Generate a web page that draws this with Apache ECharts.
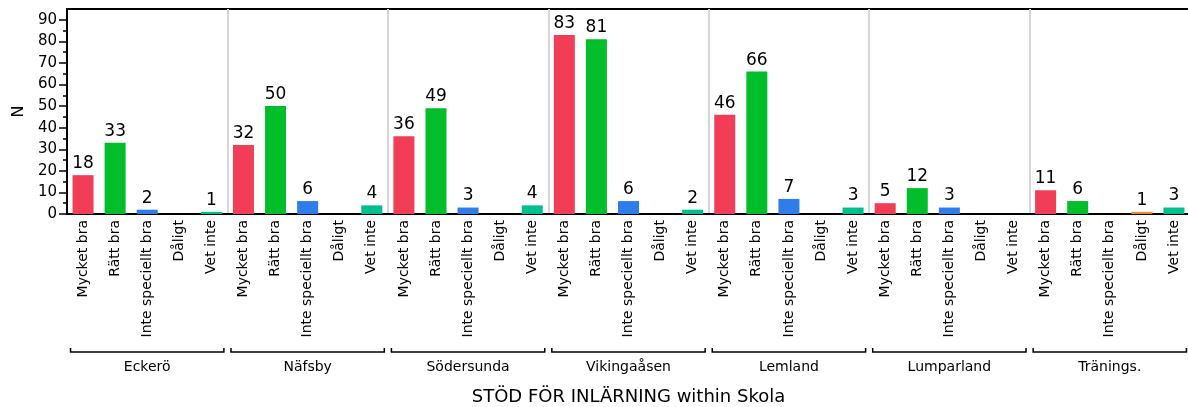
<!DOCTYPE html>
<html><head><meta charset="utf-8">
<script src="https://cdn.jsdelivr.net/npm/echarts@6/dist/echarts.min.js"></script>
<style>html,body{margin:0;padding:0;background:#fff}#c{width:1188px;height:407px}</style>
</head><body><div id="c"></div>
<script>
const groups = ['Eckerö','Näfsby','Södersunda','Vikingaåsen','Lemland','Lumparland','Tränings.'];
const responses = ['Mycket bra','Rätt bra','Inte speciellt bra','Dåligt','Vet inte'];
const mycketBra = [18,32,36,83,46,5,11];
const rattBra = [33,50,49,81,66,12,6];
const inteSpeciellt = [2,6,3,6,7,3,null];
const daligt = [null,null,null,null,null,null,1];
const vetInte = [1,4,4,2,3,null,3];
const yTicks = [0,10,20,30,40,50,60,70,80,90];
const yMinorTicks = [5,15,25,35,45,55,65,75,85];
const colors = ['#F23D57','#02BE2A','#2F7DEB','#E88A2E','#00BF8E'];

const seriesByResp = [mycketBra, rattBra, inteSpeciellt, daligt, vetInte];
const cats = [], data = [];
groups.forEach((g, gi) => {
  responses.forEach((r, ri) => {
    cats.push(r);
    const v = seriesByResp[ri][gi];
    data.push({value: v, itemStyle: {color: colors[ri]}});
  });
});

const FONT = 'DejaVu Sans';
const chart = echarts.init(document.getElementById('c'));
chart.setOption({
  animation: false,
  textStyle: {fontFamily: FONT},
  grid: {left: 67, right: -2, top: 9, bottom: 193, show: true, borderColor: '#000', borderWidth: 2,
    containLabel: false, outerBoundsMode: 'none'},
  xAxis: [{
    type: 'category', data: cats,
    axisLine: {lineStyle: {color: '#000', width: 2}},
    axisTick: {show: false},
    axisLabel: {rotate: 90, color: '#000', fontSize: 14, fontFamily: FONT, margin: 6, interval: 0},
    splitLine: {show: true, interval: (i) => i % 5 === 0 && i > 0, lineStyle: {color: '#d6d6d6', width: 2}},
    name: 'STÖD FÖR INLÄRNING within Skola', nameLocation: 'middle', nameGap: 174,
    nameTextStyle: {color: '#000', fontSize: 18, fontFamily: FONT}
  }],
  yAxis: [{
    type: 'value', min: 0, max: 95,
    name: 'N', nameLocation: 'middle', nameGap: 40,
    nameTextStyle: {color: '#000', fontSize: 16, fontFamily: FONT},
    axisLine: {show: true, lineStyle: {color: '#000', width: 2}},
    axisTick: {show: true, length: 8, customValues: yTicks, lineStyle: {color: '#000', width: 1.5}},
    splitLine: {show: false},
    axisLabel: {color: '#000', fontSize: 15, fontFamily: FONT, margin: 10, customValues: yTicks}
  }, {
    type: 'value', min: 0, max: 95, position: 'left',
    axisLine: {show: false},
    axisTick: {show: true, length: 4, customValues: yMinorTicks, lineStyle: {color: '#000', width: 1.5}},
    axisLabel: {show: false},
    splitLine: {show: false}
  }],
  series: [{
    type: 'bar', data: data, barWidth: 21,
    label: {show: true, position: 'top', color: '#000', fontSize: 17, fontFamily: FONT, distance: 3,
      formatter: (p) => (p.value == null ? '' : String(p.value))}
  }]
});

function drawGroups() {
  const els = [];
  const yLine = 352;
  groups.forEach((g, gi) => {
    const x0 = chart.convertToPixel({xAxisIndex: 0}, gi * 5) - 16 + 3.5;
    const x1 = chart.convertToPixel({xAxisIndex: 0}, gi * 5 + 4) + 16 - 3.5;
    els.push({type: 'polyline', shape: {points: [[x0, yLine - 4], [x0, yLine], [x1, yLine], [x1, yLine - 4]]},
      style: {stroke: '#000', lineWidth: 1.5, fill: null}});
    els.push({type: 'text', x: (x0 + x1) / 2, y: 367,
      style: {text: g, fill: '#000', font: '14px "DejaVu Sans"', textAlign: 'center', textVerticalAlign: 'middle'}});
  });
  chart.setOption({graphic: els});
}
drawGroups();
</script></body></html>
